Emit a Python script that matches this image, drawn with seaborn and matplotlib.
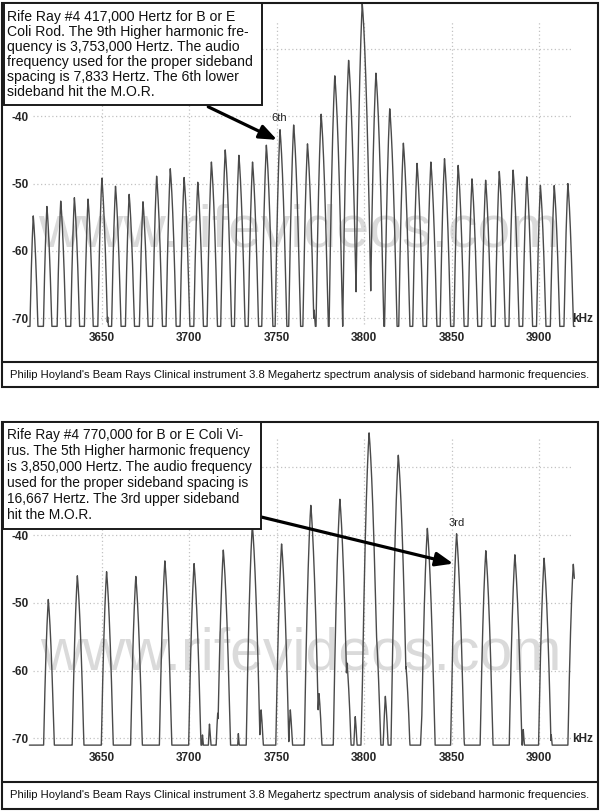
import numpy as np
import pandas as pd
import matplotlib
matplotlib.use("Agg")
import matplotlib.pyplot as plt
import seaborn as sns
from matplotlib.patches import Rectangle
from matplotlib.lines import Line2D

# ---------------- data ----------------
# Top panel: 7.833 kHz sideband spacing around the 3.8 MHz carrier
top_peak_khz = [3611.0, 3618.8, 3626.7, 3634.5, 3642.3, 3650.2, 3658.0, 3665.8,
                3673.7, 3681.5, 3689.3, 3697.2, 3705.0, 3712.8, 3720.7, 3728.5,
                3736.3, 3744.2, 3752.0, 3759.8, 3767.7, 3775.5, 3783.3, 3791.2,
                3799.0, 3806.8, 3814.7, 3822.5, 3830.3, 3838.2, 3846.0, 3853.8,
                3861.7, 3869.5, 3877.3, 3885.2, 3893.0, 3900.8, 3908.7, 3916.5]
top_peak_db = [-54.8, -53.4, -52.6, -52.1, -52.3, -49.2, -50.4, -51.6,
               -52.7, -48.9, -47.8, -49.1, -49.8, -46.8, -45.0, -45.8,
               -46.8, -44.3, -42.0, -41.3, -44.1, -39.7, -34.0, -31.7,
               -23.3, -33.6, -38.9, -44.0, -47.0, -46.8, -46.3, -47.3,
               -49.3, -49.5, -48.2, -48.0, -49.0, -50.3, -50.3, -50.0]
top_spur_khz = [3653.5, 3692.0, 3771.5, 3779.0]
top_spur_db = [-69.8, -69.8, -68.8, -68.8]
top_floor_db = -71.2
top_sweep_khz = [3607.8, 3920.5]

# Bottom panel: 16.667 kHz sideband spacing
bot_peak_khz = [3619.6, 3636.2, 3652.9, 3669.6, 3686.2, 3702.9, 3719.6, 3736.2,
                3752.9, 3769.6, 3786.2, 3802.9, 3819.6, 3836.2, 3852.9, 3869.6,
                3886.2, 3902.9, 3919.6]
bot_peak_db = [-49.5, -46.0, -45.4, -46.1, -43.8, -44.2, -42.2, -38.5,
               -41.3, -35.6, -34.7, -24.9, -28.2, -39.0, -39.8, -42.3,
               -42.9, -43.4, -44.3]
bot_spur_khz = [3707.7, 3711.7, 3716.4, 3728.2, 3734.9, 3741.2, 3750.3, 3757.9,
                3767.6, 3774.3, 3784.0, 3790.3, 3795.0, 3800.4, 3806.5, 3812.2,
                3817.6, 3824.0, 3833.0, 3850.0, 3856.7, 3891.0, 3907.0]
bot_spur_db = [-69.5, -67.9, -66.3, -69.3, -70.1, -65.8, -69.5, -65.8,
               -65.3, -63.4, -66.8, -58.9, -66.8, -55.5, -52.5, -63.8,
               -56.0, -59.4, -67.5, -69.5, -68.5, -68.7, -69.5]
bot_floor_db = -71.0
bot_sweep_khz = [3608.8, 3920.2]

x_ticks = [3650, 3700, 3750, 3800, 3850, 3900]
y_ticks = [-40, -50, -60, -70]
grid_db = [-30, -40, -50, -60, -70]

top_note = ["Rife Ray #4 417,000 Hertz for B or E",
            "Coli Rod. The 9th Higher harmonic fre-",
            "quency is 3,753,000 Hertz. The audio",
            "frequency used for the proper sideband",
            "spacing is 7,833 Hertz. The 6th lower",
            "sideband hit the M.O.R."]
bot_note = ["Rife Ray #4 770,000 for B or E Coli Vi-",
            "rus. The 5th Higher harmonic frequency",
            "is 3,850,000 Hertz. The audio frequency",
            "used for the proper sideband spacing is",
            "16,667 Hertz. The 3rd upper sideband",
            "hit the M.O.R."]
caption = ("Philip Hoyland's Beam Rays Clinical instrument 3.8 Megahertz "
           "spectrum analysis of sideband harmonic frequencies.")

# ---------------- style ----------------
sns.set_style("white")
plt.rcParams["font.family"] = ["Liberation Sans", "DejaVu Sans"]
NARROW = ["Liberation Sans Narrow", "Liberation Sans", "DejaVu Sans"]
TRACE = "#4a4a4a"
GRID = "#c2c2c2"
WM = "#dadada"

W, H = 600, 811
fig = plt.figure(figsize=(W / 100, H / 100), dpi=100)
fig.patch.set_facecolor("white")


def fx(x):
    return x / W


def fy(y):
    return 1 - y / H


def spectrum(pk_f, pk_db, sp_f, sp_db, floor, sweep, shape):
    aL, bL, aR, bR = shape
    f = np.arange(sweep[0], sweep[1], 0.02)
    level = np.full_like(f, floor)
    for c, p in zip(list(pk_f) + list(sp_f), list(pk_db) + list(sp_db)):
        d = f - c
        drop = np.where(d < 0, aL * -d + bL * d * d, aR * d + bR * d * d)
        level = np.maximum(level, p - drop)
    return pd.DataFrame({"kHz": f, "dB": level})


panels = [
    dict(top=2.7, sep=361.7, bottom=387.3, ylim=(-76.45, -23.18),
         data=spectrum(top_peak_khz, top_peak_db, top_spur_khz, top_spur_db,
                       top_floor_db, top_sweep_khz, (5, 2.0, 3, 1.2)),
         note=top_note, box=(4, 3, 261.7, 105), note_x=7.3, base0=20.6, lsp=15.05,
         fs=10.1,
         arrow=((3711, -38.6), (3750.3, -43.5)), lab=("6th", 3751.4, -40.3),
         wm=(3763.0, -59.3)),
    dict(top=422.3, sep=781.7, bottom=809.3, ylim=(-76.4, -23.38),
         data=spectrum(bot_peak_khz, bot_peak_db, bot_spur_khz, bot_spur_db,
                       bot_floor_db, bot_sweep_khz, (4, 1.5, 3, 1.0)),
         note=bot_note, box=(2.7, 422.3, 260.7, 529), note_x=6.7, base0=439.3, lsp=16.0,
         fs=9.9,
         arrow=((3741.0, -37.3), (3851.0, -44.2)), lab=("3rd", 3853.0, -38.2),
         wm=(3764.0, -59.9)),
]

for P in panels:
    ax = fig.add_axes([fx(2), fy(P["sep"]), fx(598) - fx(2), fy(P["top"] + 0.3) - fy(P["sep"])])
    ax.set_facecolor("white")
    ax.set_xlim(3593.14, 3933.71)
    ax.set_ylim(*P["ylim"])
    for s in ax.spines.values():
        s.set_visible(False)

    # watermark
    ax.text(P["wm"][0], P["wm"][1], "www.rifevideos.com", fontsize=42.5, color=WM,
            ha="center", va="baseline", zorder=0)

    # dotted grid
    ax.hlines(grid_db, 3610.6, 3918.9, colors=GRID, linestyles=(0, (1, 2)), lw=0.9, zorder=1)
    ax.vlines(x_ticks, -70.9, -25.8, colors=GRID, linestyles=(0, (1, 2)), lw=0.9, zorder=1)

    sns.lineplot(data=P["data"], x="kHz", y="dB", ax=ax, color=TRACE, lw=1.0,
                 estimator=None, sort=False, zorder=3)
    ax.set_xlabel("")
    ax.set_ylabel("")

    ax.set_yticks(y_ticks, [str(v) for v in y_ticks], ha="left",
                  fontsize=8.5, fontweight="bold", family=NARROW)
    ax.tick_params(axis="y", length=0, pad=-6.5)
    ax.set_xticks(x_ticks, [str(v) for v in x_ticks],
                  fontsize=8.5, fontweight="bold", family=NARROW)
    ax.tick_params(axis="x", length=0, pad=-21.4)
    ax.text(3925.1, -70.1, "kHz", ha="center", va="center", fontsize=8.5,
            fontweight="bold", family=NARROW)

    # arrow + label
    (s0, s1), (t0, t1) = P["arrow"]
    ax.annotate("", xy=(t0, t1), xytext=(s0, s1), zorder=6,
                arrowprops=dict(arrowstyle="-|>,head_length=0.75,head_width=0.3",
                                lw=2.3, color="black", shrinkA=0, shrinkB=0,
                                mutation_scale=14))
    ax.text(P["lab"][1], P["lab"][2], P["lab"][0], ha="center", va="center",
            fontsize=8, color="#222222", zorder=6)

    # panel frame and caption separator
    fig.patches.append(Rectangle((fx(2), fy(P["bottom"])), fx(598) - fx(2),
                                 fy(P["top"]) - fy(P["bottom"]), transform=fig.transFigure,
                                 fill=False, ec="#1a1a1a", lw=1.5, zorder=5))
    fig.lines.append(Line2D([fx(2), fx(598)], [fy(P["sep"])] * 2,
                            transform=fig.transFigure, color="#1a1a1a", lw=1.5, zorder=5))
    fig.text(fx(300), fy((P["sep"] + P["bottom"]) / 2), caption, ha="center",
             va="center", fontsize=8.1, color="#111111", zorder=6)

    # note box
    bx0, by0, bx1, by1 = P["box"]
    fig.patches.append(Rectangle((fx(bx0), fy(by1)), fx(bx1) - fx(bx0), fy(by0) - fy(by1),
                                 transform=fig.transFigure, fc="white", ec="#1a1a1a",
                                 lw=1.4, zorder=7))
    for i, line in enumerate(P["note"]):
        fig.text(fx(P["note_x"]), fy(P["base0"] + i * P["lsp"]), line, ha="left",
                 va="baseline", fontsize=P["fs"], color="#111111", zorder=8)

fig.savefig("out.png", dpi=100, facecolor="white")
